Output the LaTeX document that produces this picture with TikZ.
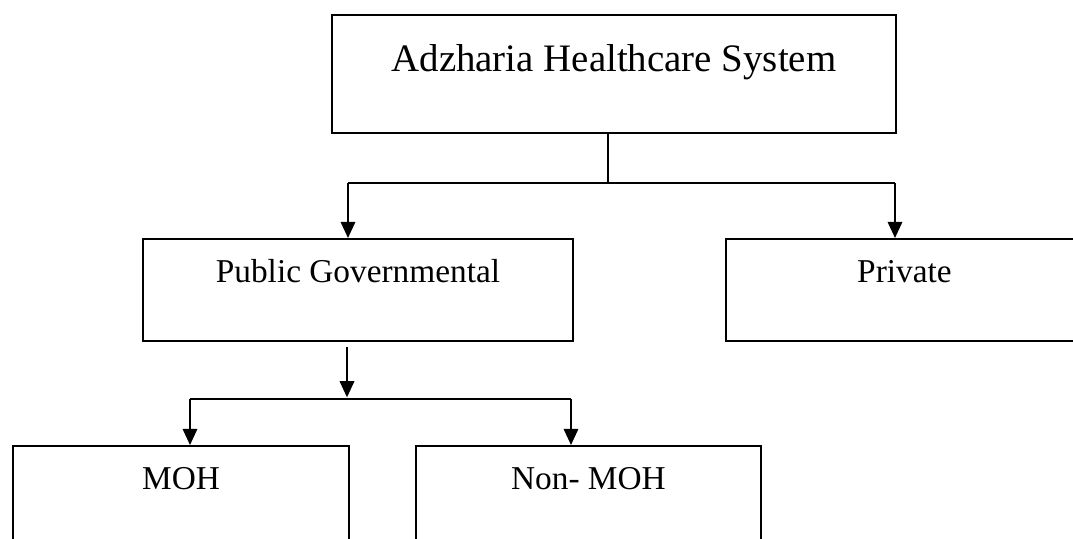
\documentclass[tikz,border=0pt]{standalone}
\usepackage{fontspec}
\setmainfont{Liberation Serif}
\usetikzlibrary{arrows.meta}
\usetikzlibrary{positioning}

\begin{document}
\begin{tikzpicture}[x=0.36pt,y=-0.36pt,
	box/.style={draw,line width=0.7pt,anchor=north west,inner sep=0pt,align=center},
	lowbox/.style={box,minimum height=36.7pt,text height=15.6pt,text depth=21.1pt,font=\fontsize{12}{14}\selectfont},
	link/.style={line width=0.7pt},
	arrow/.style={link,-{Triangle[length=5.8pt,width=5.2pt]}}]
	\useasboundingbox (0,0) rectangle (1073,538);
	
	\node[box,minimum width=203pt,minimum height=42.5pt,text height=20.2pt,text depth=22.3pt,
		font=\fontsize{14}{16}\selectfont] (system) at (331,14) {Adzharia Healthcare System};
	
	\node[lowbox,minimum width=154.8pt,text height=15.8pt,text depth=20.9pt] (public) at (142,238) {Public Governmental};
	\node[lowbox,minimum width=128.5pt,text height=15.8pt,text depth=20.9pt] (private) at (725,238) {Private};
	
	\node[lowbox,minimum width=121pt] (moh) at (12,445) {MOH};
	\node[lowbox,minimum width=124.2pt] (nonmoh) at (415,445) {Non- MOH};
	
	% first split
	\coordinate (fork1) at (608,183);
	\coordinate (fork1l) at (348,183);
	\coordinate (fork1r) at (895,183);
	\draw[link] (system.south -| fork1) -- (fork1);
	\draw[link] (fork1l) -- (fork1r);
	\draw[arrow] (fork1l) -- (public.north -| fork1l);
	\draw[arrow] (fork1r) -- (private.north -| fork1r);
	
	% second split
	\coordinate (fork2) at (347,399);
	\coordinate (fork2l) at (190,399);
	\coordinate (fork2r) at (571,399);
	\draw[arrow,shorten <=1.8pt,shorten >=0.6pt] (public.south -| fork2) -- (fork2);
	\draw[link] (fork2l) -- (fork2r);
	\draw[arrow] (fork2l) -- (moh.north -| fork2l);
	\draw[arrow] (fork2r) -- (nonmoh.north -| fork2r);
\end{tikzpicture}
\end{document}
